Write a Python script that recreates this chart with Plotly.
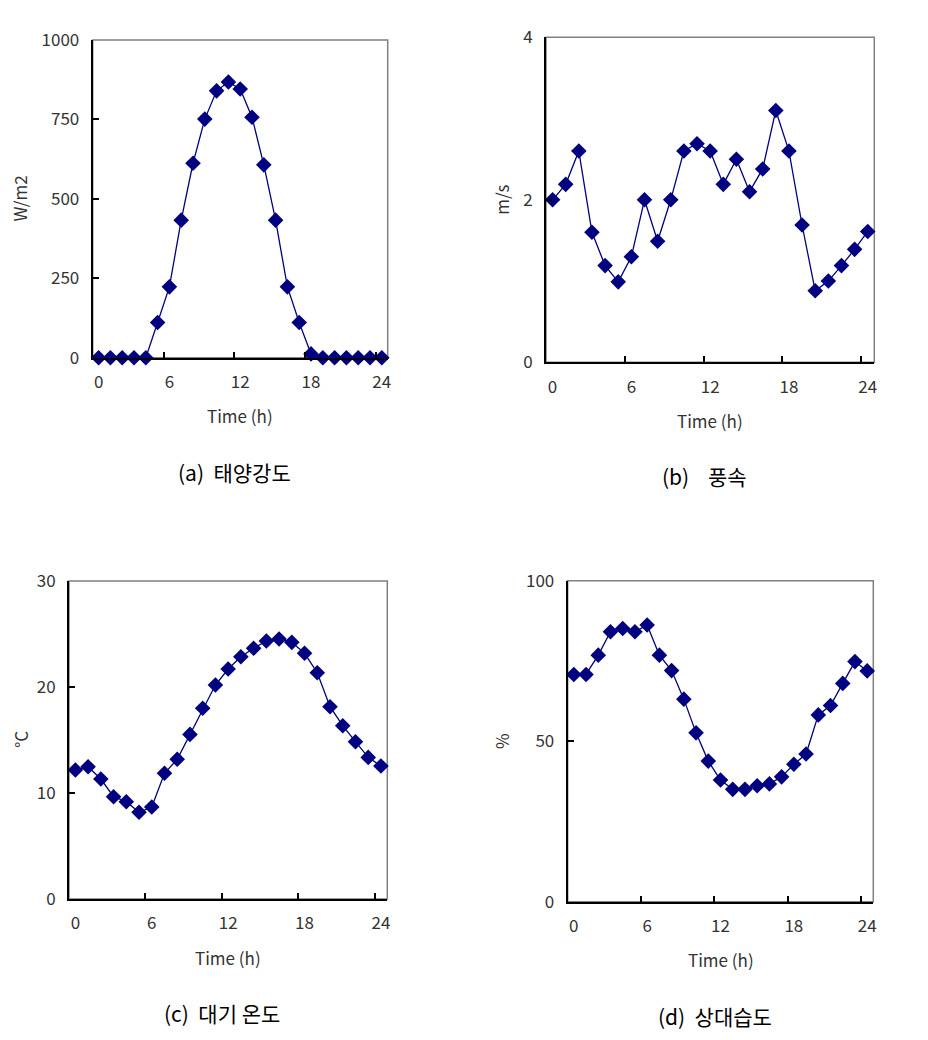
import plotly.graph_objects as go

# page body has an 8px margin, so the figure is drawn 16px smaller
PAD = 8
W, H = 928 - 2 * PAD, 1040 - 2 * PAD

hours = list(range(25))

solar = [0, 0, 0, 0, 0, 111, 223, 433, 612, 751, 840, 868, 846, 757, 607,
         433, 223, 111, 12, 0, 0, 0, 0, 0, 0]
wind = [2.0, 2.19, 2.6, 1.6, 1.19, 0.99, 1.3, 2.0, 1.49, 2.0, 2.6, 2.69, 2.6,
        2.19, 2.5, 2.1, 2.38, 3.1, 2.6, 1.69, 0.88, 1.0, 1.19, 1.39, 1.61]
temp = [12.17, 12.48, 11.32, 9.65, 9.18, 8.18, 8.68, 11.86, 13.18, 15.53,
        17.99, 20.19, 21.7, 22.86, 23.65, 24.34, 24.53, 24.21, 23.18, 21.35,
        18.14, 16.35, 14.84, 13.36, 12.55]
humid = [70.8, 70.8, 76.8, 84.1, 85.1, 84.1, 86.2, 76.8, 72.0, 63.1, 52.6,
         43.8, 37.9, 35.0, 35.0, 36.1, 36.7, 38.9, 42.8, 46.0, 58.2, 61.1,
         68.0, 74.8, 71.9]

x_ticks = [0, 6, 12, 18, 24]

# (series, y range, y ticks, y title, caption, box px [x0, x1, y0, y1], title gap)
panels = [
    (solar, [0, 1000], [0, 250, 500, 750, 1000], "W/m2", "(a)  태양강도",
     [92.7, 387.7, 40, 357.7], 73),
    (wind, [0, 4], [0, 2, 4], "m/s", "(b)    풍속",
     [546, 874.3, 37.3, 362.3], 44),
    (temp, [0, 30], [0, 10, 20, 30], "°C", "(c)  대기 온도",
     [69, 387.3, 581, 899], 49),
    (humid, [0, 100], [0, 50, 100], "%", "(d)  상대습도",
     [567.7, 873.3, 580.7, 901.7], 67),
]


def fx(px):
    return (px - PAD) / W


def fy(py):
    return 1 - (py - PAD) / H


font_ax = "Noto Sans CJK KR"
fig = go.Figure()
annotations = []
shapes = []


def label(text, px, py, size, color, angle=0):
    return dict(text=text, x=fx(px), y=fy(py), xref="paper", yref="paper",
                xanchor="center", yanchor="middle", showarrow=False,
                textangle=angle,
                font=dict(family=font_ax, size=size, color=color))


for i, (vals, yr, yt, ytitle, cap, box, gap) in enumerate(panels):
    n = "" if i == 0 else str(i + 1)
    x0, x1, y0, y1 = box
    fig.add_trace(go.Scatter(
        x=hours, y=vals, mode="lines+markers",
        line=dict(color="#000080", width=1.3),
        marker=dict(symbol="diamond", size=12, color="#000080"),
        xaxis="x" + n, yaxis="y" + n, showlegend=False, cliponaxis=False))
    fig.layout["xaxis" + n] = dict(
        domain=[fx(x0), fx(x1)], anchor="y" + n, range=[-0.5, 24.5],
        tickmode="array", tickvals=x_ticks, ticks="", showgrid=False,
        zeroline=False, showline=True, linecolor="black", linewidth=2,
        automargin=False, ticklabelstandoff=8,
        tickfont=dict(family=font_ax, size=17, color="#333"),
        minor=dict(tickmode="array", tickvals=[5.5, 11.5, 17.5, 23.5],
                   ticks="inside", ticklen=6, tickcolor="black", tickwidth=2))
    fig.layout["yaxis" + n] = dict(
        domain=[fy(y1), fy(y0)], anchor="x" + n, range=yr,
        tickmode="array", tickvals=yt, ticks="inside", ticklen=6,
        tickcolor="black", tickwidth=2, showgrid=False, zeroline=False,
        showline=True, linecolor="black", linewidth=2, automargin=False,
        ticklabelstandoff=8,
        tickfont=dict(family=font_ax, size=17, color="#333"))
    shapes.append(dict(type="rect", xref="x" + n + " domain",
                       yref="y" + n + " domain", x0=0, x1=1, y0=0, y1=1,
                       line=dict(color="#808080", width=1.5), layer="below"))
    annotations.append(label("Time (h)", (x0 + x1) / 2, y1 + 58, 17, "#333"))
    annotations.append(label(ytitle, x0 - gap, (y0 + y1) / 2, 17, "#333",
                             angle=-90))
    annotations.append(label(cap, (x0 + x1) / 2 - 6, y1 + 114, 21, "black"))

fig.update_layout(
    width=W, height=H, margin=dict(l=0, r=0, t=0, b=0),
    paper_bgcolor="white", plot_bgcolor="white",
    shapes=shapes, annotations=annotations)

fig.write_html("out.html")
